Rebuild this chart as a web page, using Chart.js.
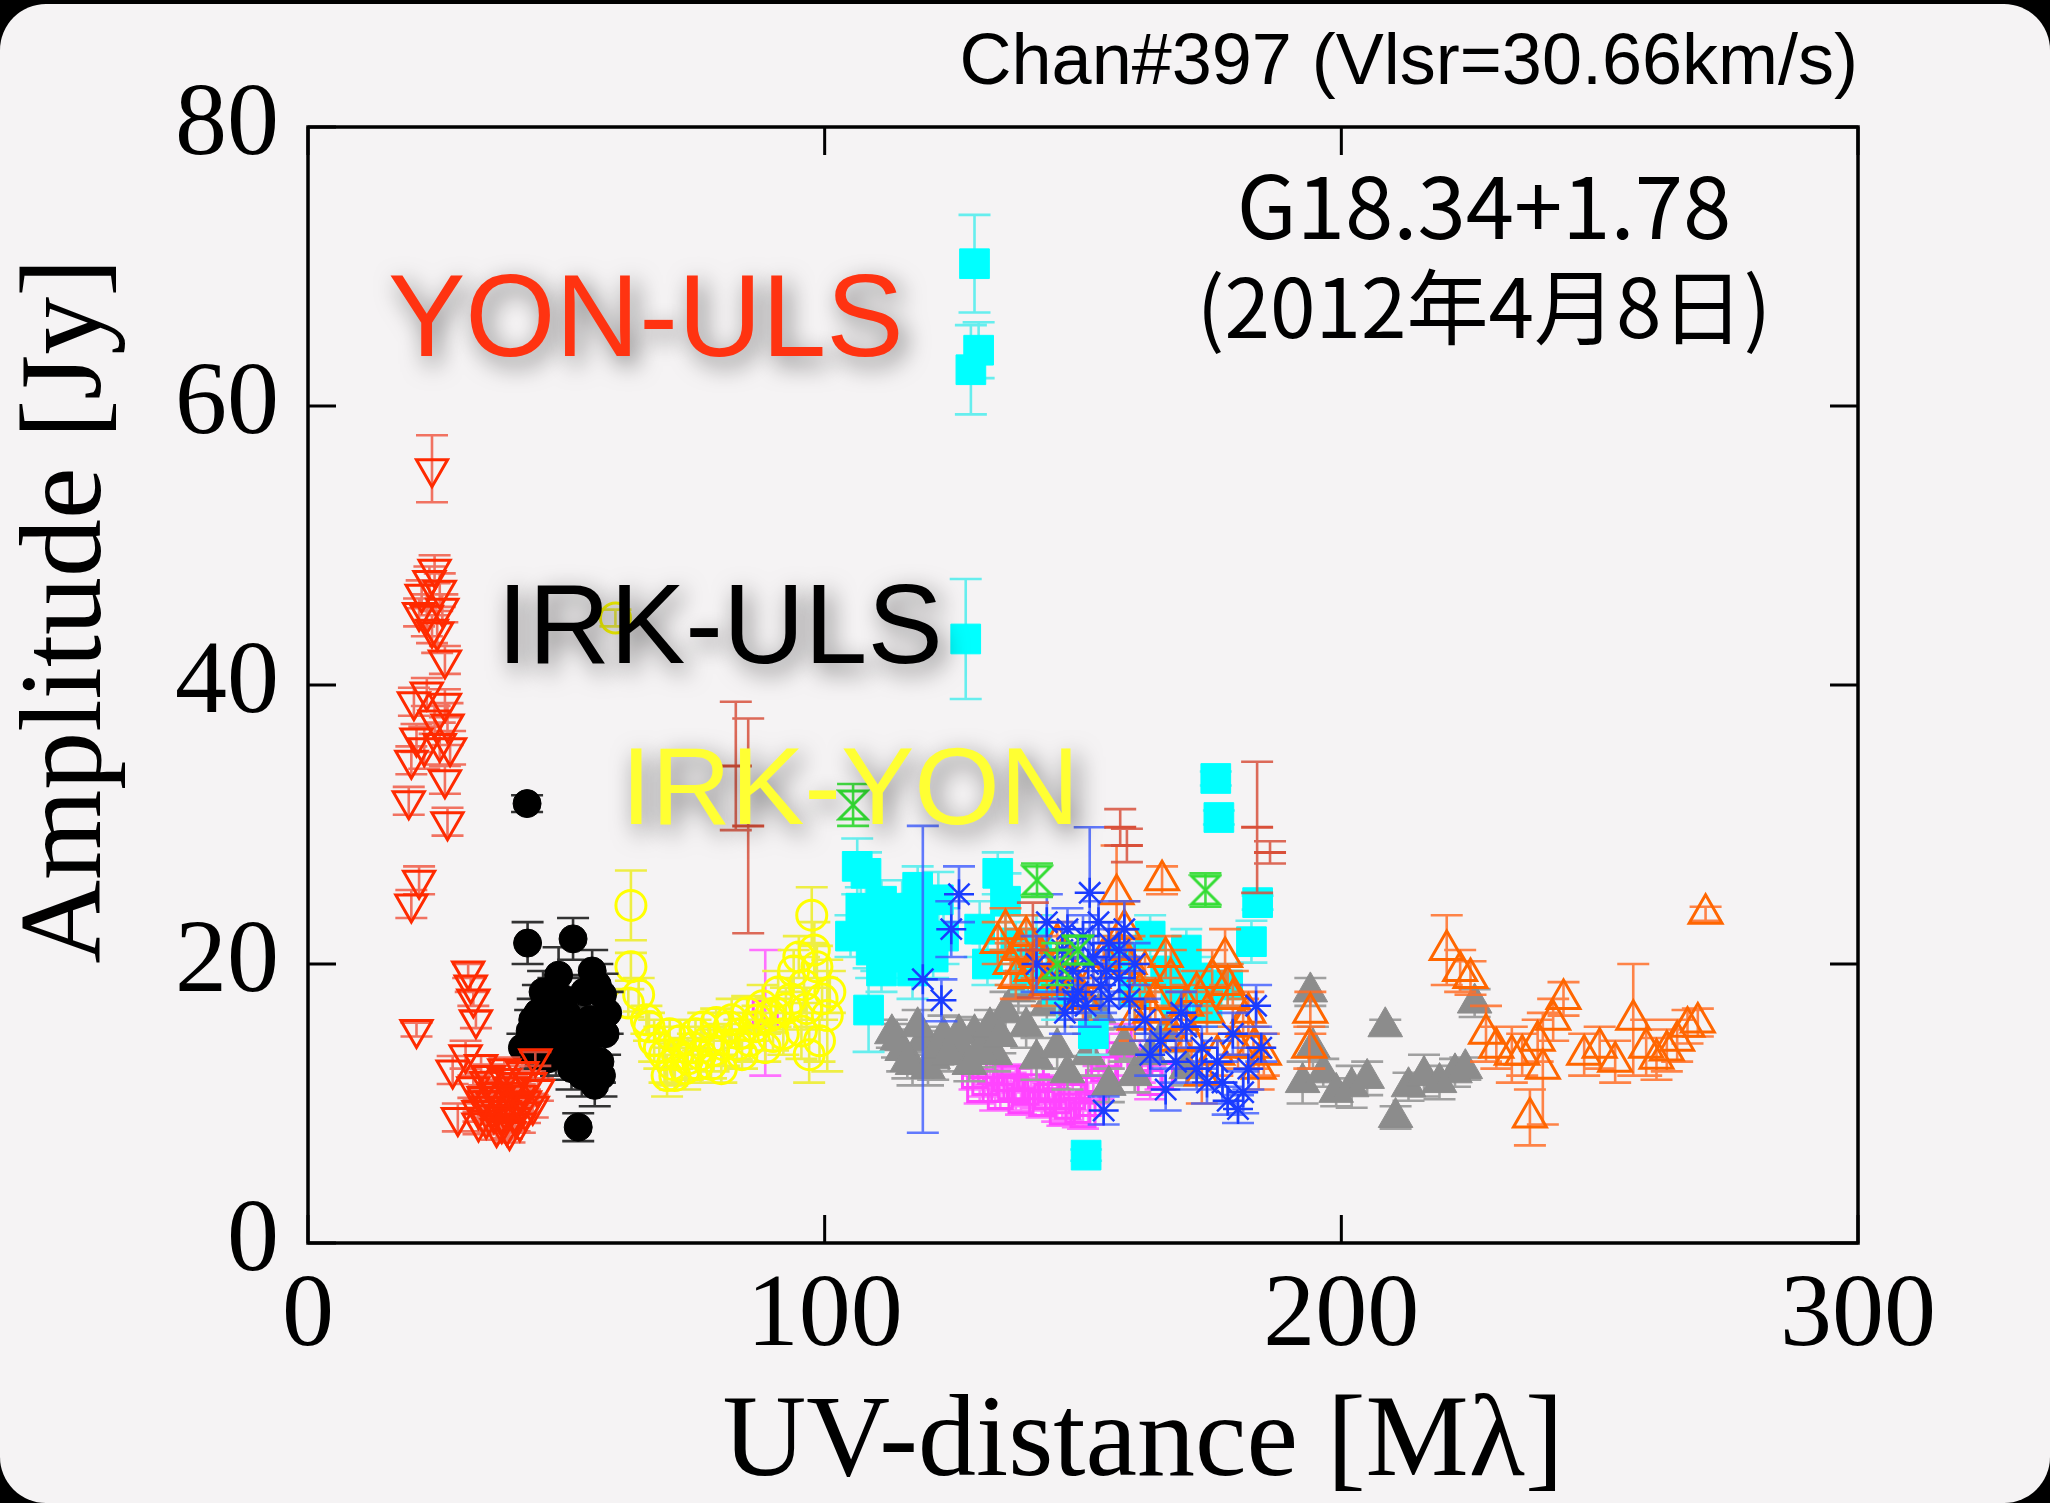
<!DOCTYPE html>
<html>
<head>
<meta charset="utf-8">
<title>UV-distance vs Amplitude</title>
<script src="https://cdn.jsdelivr.net/npm/chart.js@4.4.1/dist/chart.umd.min.js"></script>
<style>
  html, body { margin: 0; padding: 0; background: #000; overflow: hidden; }
  #frame { position: absolute; left: 0; top: 4px; width: 2050px; height: 1499px; background: #f5f3f4; border-radius: 46px; }
  #chart { position: absolute; left: 0; top: 0; }
</style>
</head>
<body>
<div id="frame"></div>
<canvas id="chart" width="2050" height="1503"></canvas>
<script>
// axis ticks
const xTicks = [0, 100, 200, 300];
const yTicks = [0, 20, 40, 60, 80];

// YON-ULS (red, open down triangles)
const yonUlsX = [24, 24.5, 23.5, 22, 25.5, 21.5, 23, 26, 24, 25, 26.5, 20.5, 23, 26.5, 24.5, 27, 21, 22.5, 25.5, 27.5, 20, 26.5, 19.5, 27, 21.5, 20, 21,
  31, 31.5, 32, 32.5, 28, 29, 32, 30.5, 33, 34, 35, 36, 37, 38, 38.5, 39, 40, 40.5, 41, 42, 43, 44, 36.5, 39.5, 34.5, 37.5, 41.5, 33.5, 35.5, 38,
  33, 34.5, 36, 37.5, 39, 40.5, 42, 35, 38, 41, 43.5, 36.5, 39.5, 33.8, 44.5];
const yonUlsY = [55.5, 48.3, 47.5, 46.5, 46.8, 45.2, 45, 45.5, 44, 43.8, 41.8, 38.8, 39.5, 38.7, 37.5, 37.2, 36.2, 35.5, 35.8, 35.5, 34.6, 33.2, 31.7, 30.2, 26, 24.3, 15.3,
  19.5, 18.5, 17.5, 16, 12.4, 9, 11.2, 13.5, 8.6, 10.5, 9.8, 9.2, 10.5, 9.5, 8.3, 10.8, 9, 11.5, 8.6, 10.2, 11.5, 13.2, 10.8, 9.8, 11.6, 8.5, 12.3, 12.8, 10.2, 11.8,
  9.5, 8.8, 10.8, 9.2, 8, 10, 9.4, 12, 12.5, 10.6, 9.8, 8.2, 11.2, 10.2, 11];
const yonUlsErr = [2.4, 1, 1, 1, 1.2, 1, 1.5, 1, 1, 1.5, 1, 1, 1, 1, 1, 1.5, 1, 1.5, 1.5, 1.2, 1, 1, 1, 1, 1, 1, 0.5,
  0.5, 0.5, 0.5, 0.6, 1, 1, 0.8, 1, 0.8, 0.8, 0.8, 1, 1, 1.5, 0.8, 1, 1, 1.2, 0.7, 0.8, 0.8, 0.5, 0.8, 0.6, 0.6, 0.6, 0.6, 0.6, 0.6, 0.6,
  0.8, 0.8, 0.8, 0.8, 0.8, 0.8, 0.8, 0.8, 0.8, 0.8, 0.8, 0.8, 0.8, 0.8, 0.8];

// IRK-ULS (black, filled circles)
const irkUlsX = [42.4, 42.5, 51.3, 48.5, 55, 56, 41.5, 43, 44.5, 46, 47.5, 49, 50.5, 52, 53, 54, 55.5, 56.5, 57.5, 58, 57, 52.3, 45, 48, 50, 54.5, 44, 53.5,
  43.5, 46.5, 49.5, 51, 53.8, 56.8, 45.5, 47];
const irkUlsY = [31.5, 21.5, 21.8, 19.2, 19.5, 18.5, 14, 15.2, 16.5, 15.5, 17, 15, 14, 13.2, 12, 14.5, 11.3, 13, 15, 16.5, 17.8, 8.3, 14.2, 13.5, 16.5, 16, 13.5, 18,
  16, 13.2, 17.5, 12.5, 15.5, 12, 18, 14.5];
const irkUlsErr = [0.6, 1.5, 1.5, 2, 1.5, 1.5, 1, 1.5, 2, 2, 2, 1.5, 2, 1.5, 1.5, 2, 1.5, 1.5, 1.5, 1.5, 1.5, 1, 1.5, 1.5, 1.5, 1.5, 1, 1.2,
  1.5, 1.5, 1.5, 1.5, 1.5, 1.5, 1.5, 1.5];

// IRK-YON (yellow, open circles)
const irkYonX = [59.5, 62.5, 62.5, 64, 62, 65.5, 67, 69, 70.5, 72, 73.5, 75, 76, 77.5, 79, 80.5, 82, 83.5, 85, 86.5, 88, 89.5, 91, 92.5, 94, 96, 97.5, 98.5, 99.5, 100.5, 99, 95.5, 90, 84, 78, 71,
  66, 68, 70, 71.5, 73, 74.5, 76.5, 78.5, 80, 81.5, 83, 85.5, 87, 88.5, 90.5, 92, 93.5, 95, 96.5, 98, 101, 97, 69.5, 75.5];
const irkYonY = [44.8, 24.2, 19.8, 17.8, 17.2, 16, 14.5, 13.5, 12.8, 14.5, 13.2, 15, 13.5, 14.5, 15.8, 14.2, 16, 15, 16.5, 15.5, 17, 16.3, 18, 16.8, 19.5, 18.5, 23.5, 19.8, 17.5, 16.3, 14.5, 15.2, 14.8, 13.5, 12.8, 12,
  15.5, 14, 15, 13.5, 12.5, 14, 15.5, 13.8, 12.5, 15.5, 14.2, 14.5, 16, 14, 16.5, 15, 17.5, 20.5, 16.8, 21, 18, 13.5, 12, 12.8];
const irkYonErr = [0.6, 2.5, 1, 1.2, 1, 1, 1.5, 2, 1.5, 1.5, 1.5, 1, 2, 1, 1, 1.5, 1.5, 1, 1.2, 1, 1.5, 1.2, 1.5, 1.5, 1.5, 2, 2, 1.5, 1.5, 4, 1.5, 2, 1, 1, 1, 1,
  1, 1.5, 1, 1, 1.5, 1, 1, 1.5, 1, 1, 1, 1.5, 1, 1, 1, 1.5, 1.5, 1.5, 1.5, 2, 1.5, 2, 1.5, 1];

// other baselines
const cyanX = [129, 129.8, 128.3, 127.3, 106.3, 108, 108, 110, 112, 114, 116, 117.5, 119, 120.5, 122, 113, 108.5, 130, 131.5, 133.5, 135, 137, 139, 141, 143, 145, 150.6, 152, 157, 160, 163, 166, 168, 170, 172, 175.7, 176.3, 183.8, 182.6, 178, 174,
  105, 107, 109, 111, 113, 115, 117, 119, 121, 123, 111, 118];
const cyanY = [70.2, 64, 62.6, 43.3, 27, 26.5, 22.5, 21.5, 23, 22.5, 21.5, 24, 23.5, 22, 24.6, 20.5, 16.7, 22.5, 20, 26.5, 24.5, 21.5, 19.5, 21.5, 19, 18, 6.3, 15, 20.5, 18, 22, 19.5, 17.5, 21, 19, 33.3, 30.5, 24.4, 21.6, 18.5, 17,
  22, 24, 21, 24.5, 22.5, 24, 19.5, 21, 20.5, 22, 19.5, 25.5];
const cyanErr = [3.5, 2, 3.2, 4.3, 2, 1.5, 2, 2, 1.5, 2, 2, 2, 1.5, 2, 2, 1.5, 3, 2, 1.5, 1.5, 2, 1.5, 1.5, 2, 1.5, 2, 0.4, 1.5, 1.5, 2, 1.5, 1.5, 2, 1.5, 1.5, 0.5, 0.5, 0.5, 1.5, 1.5, 1.5,
  1.5, 1.5, 2, 1.5, 1.5, 2, 2, 2, 1.5, 2, 1.5, 1.5];

const greyX = [113, 115, 117, 119, 121, 123, 125, 127, 129, 131, 133, 135, 137.5, 139, 141, 143, 145, 147, 149, 151, 153, 155, 158, 160, 163, 166, 170, 194, 194.5, 192.5, 196.5, 199, 202, 205, 208.5, 210.5, 213, 216, 219, 222, 225.8, 224,
  114, 116, 118, 120, 122, 124, 126, 128, 130, 132, 134];
const greyY = [15, 13.8, 12.8, 14.5, 13.2, 14.8, 14, 13.5, 15, 14.2, 13.5, 16.5, 18, 15.5, 13.2, 17, 14, 12.2, 18, 13.5, 16.5, 11.3, 14.2, 12, 13.5, 15.2, 12.5, 18, 14, 11.5, 12.2, 10.8, 11.2, 11.8, 15.5, 9, 11.2, 12, 11.5, 12.2, 17.2, 12.5,
  14.5, 13, 15.5, 12.5, 14, 13.5, 15, 12.8, 13.8, 15.5, 14.8];
const greyErr = [1, 1.5, 1.5, 1, 1.5, 1.5, 1, 1.2, 1, 1, 1.2, 1.5, 1.5, 1.5, 1.5, 1.5, 1.5, 1.2, 1, 1.5, 1.2, 1.2, 1.2, 1.2, 1.5, 1.5, 1.2, 1, 1.5, 1.5, 1, 1, 1.5, 1.2, 0.5, 0.8, 1, 1.5, 1.2, 1, 1, 0.8,
  1.2, 1.2, 1.2, 1.2, 1.2, 1.2, 1.2, 1.2, 1.2, 1.2, 1.2];

const magentaX = [88.5, 129, 131, 133, 135, 137, 139, 141, 143, 145, 147, 149, 151, 153, 155, 157, 159, 161, 163, 165,
  130, 132, 134, 136, 138, 140, 142, 144, 146, 148, 150, 152, 154];
const magentaY = [16.5, 12, 11.5, 11, 11.8, 11, 10.8, 11.2, 10.5, 10.2, 9.8, 9.5, 10, 11.5, 13.5, 14.5, 12.5, 13, 11.5, 12,
  11, 12.3, 10.5, 11.2, 10.2, 11.8, 10, 11, 9.4, 10.5, 9.2, 11, 12.5];
const magentaErr = [4.5, 1, 1, 1.5, 1, 1.5, 1, 1.5, 1, 1.5, 1, 1.2, 1.5, 1.2, 1.5, 1.2, 1, 1.5, 1.2, 1,
  1, 1, 1, 1, 1, 1, 1, 1, 1, 1, 1, 1, 1];

const blueX = [119, 122.6, 124.5, 126, 151.3, 146, 148, 150, 152, 153.5, 155, 157, 159, 148, 154, 162, 165, 168, 170, 172, 174, 176, 178, 180, 182, 183.5, 179, 143, 141, 158, 184.5,
  145, 147, 149, 151, 153, 155, 157, 160, 146.5, 150.5, 154.5, 163, 166, 169, 173, 177, 181];
const blueY = [18.9, 17.4, 22.5, 25, 25.1, 21, 19.5, 22, 20.5, 18.5, 21.5, 19, 17.5, 17.5, 9.5, 16, 14.5, 13, 15.5, 12.5, 11.5, 13, 10.2, 9.6, 12.5, 17, 15, 23, 20, 22.5, 14,
  19, 22.5, 18, 20, 23, 17.5, 21, 20, 16.5, 17, 19.5, 13.5, 11, 16.5, 14, 11.5, 10.8];
const blueErr = [11, 1.5, 2, 2, 4.7, 2, 2, 1.5, 2, 2, 1.5, 2, 2, 1.5, 1, 1.5, 1.5, 1.5, 1.5, 1.5, 1.5, 1.5, 1, 1, 1.5, 1.5, 1.5, 2, 2, 2, 1,
  1.5, 1.5, 1.5, 1.5, 1.5, 1.5, 1.5, 1.5, 1.5, 1.5, 1.5, 1.5, 1.5, 1.5, 1.5, 1.5, 1.5];

const orangeX = [133.5, 136, 138, 140, 142, 144, 146, 148, 156.5, 158, 159, 161, 163, 165.3, 167, 169, 171, 173, 175, 177.5, 179, 181, 183, 185, 194, 193.8, 220.4, 223, 225, 228, 230, 233, 236.5, 235, 238, 241, 243, 239, 247, 250, 253, 256.5, 259, 261, 263, 265, 267, 269, 270.5,
  135, 137, 139, 141, 143, 145, 147, 150, 152, 154, 157, 160, 162, 164, 166, 168, 170, 172, 174, 176, 178, 180, 182, 184];
const orangeY = [21.5, 20, 21, 19.5, 20.5, 19, 20.5, 18.5, 25, 22.5, 20, 18, 16.5, 26, 19, 16, 14.5, 12, 19, 20.5, 17.5, 15.5, 14, 13.5, 16.5, 14, 21, 19.5, 19, 15, 14, 13.5, 9, 13.5, 14.5, 16, 17.5, 12.5, 13.5, 14, 13, 16, 14, 13.2, 13.8, 14.5, 15.5, 15.8, 23.6,
  22.5, 19, 22, 20.5, 18.5, 21.5, 19.5, 17.5, 19, 20.5, 21, 16, 19.5, 17.5, 20.5, 14.5, 17, 18, 16.5, 13.5, 18.5, 14, 16.5, 12.5];
const orangeErr = [1.5, 1.5, 1.5, 2, 1.5, 1.5, 1.5, 2, 3.5, 2, 2, 2, 2, 1, 2, 2, 2, 2, 2, 2, 2, 2, 1.5, 1.5, 1.5, 1.5, 2.5, 1.5, 1.2, 2, 1.5, 2, 2, 1.5, 1.5, 1.5, 1.2, 4, 1.5, 1.5, 1.5, 4, 2, 1.5, 1.5, 1.5, 1.2, 1, 0.5,
  1.5, 1.5, 1.5, 1.5, 1.5, 1.5, 1.5, 1.5, 1.5, 1.5, 1.5, 1.5, 1.5, 1.5, 1.5, 1.5, 1.5, 1.5, 1.5, 1.5, 1.5, 1.5, 1.5, 1.5];

const greenX = [105.5, 141.1, 173.7, 145, 149];
const greenY = [31.4, 26, 25.3, 20, 21];
const greenErr = [1.5, 1.2, 1.2, 1.5, 1];

const brickX = [82.8, 85.2, 140.3, 157.2, 158.5, 183.7, 186.2];
const brickY = [34.2, 29.9, 21, 29.8, 28.5, 29.8, 28];
const brickErr = [4.6, 7.7, 3.4, 1.3, 1.2, 4.7, 0.8];

const pts = (xs, ys) => xs.map((x, i) => ({ x: x, y: ys[i] }));

function hourglass(color) {
  const c = document.createElement("canvas");
  c.width = 34;
  c.height = 34;
  const g = c.getContext("2d");
  g.strokeStyle = color;
  g.lineWidth = 3;
  g.beginPath();
  g.moveTo(3, 3);
  g.lineTo(31, 3);
  g.lineTo(3, 31);
  g.lineTo(31, 31);
  g.closePath();
  g.stroke();
  return c;
}

// vertical error bars, drawn under each dataset's markers
const errorBars = {
  id: "errorBars",
  beforeDatasetDraw(chart, args) {
    const ds = chart.data.datasets[args.index];
    if (!ds.errors) return;
    const ctx = chart.ctx;
    const y = chart.scales.y;
    const a = chart.chartArea;
    ctx.save();
    ctx.beginPath();
    ctx.rect(a.left, a.top, a.right - a.left, a.bottom - a.top);
    ctx.clip();
    ctx.strokeStyle = ds.errColor;
    ctx.lineWidth = 2.6;
    ctx.beginPath();
    ds.data.forEach((p, i) => {
      const px = args.meta.data[i].x;
      const top = y.getPixelForValue(p.y + ds.errors[i]);
      const bot = y.getPixelForValue(p.y - ds.errors[i]);
      ctx.moveTo(px, top);
      ctx.lineTo(px, bot);
      ctx.moveTo(px - 16, top);
      ctx.lineTo(px + 16, top);
      ctx.moveTo(px - 16, bot);
      ctx.lineTo(px + 16, bot);
    });
    ctx.stroke();
    ctx.restore();
  },
};

// labels on the plot
const labels = {
  id: "labels",
  afterDatasetsDraw(chart) {
    const ctx = chart.ctx;
    ctx.save();
    ctx.textBaseline = "alphabetic";
    ctx.shadowColor = "rgba(0,0,0,0.55)";
    ctx.shadowBlur = 24;
    ctx.shadowOffsetX = 6;
    ctx.shadowOffsetY = 8;
    ctx.textAlign = "left";
    ctx.font = "116px 'Liberation Sans', Arial, sans-serif";
    ctx.fillStyle = "#ff3311";
    ctx.fillText("YON-ULS", 388, 356);
    ctx.font = "113px 'Liberation Sans', Arial, sans-serif";
    ctx.fillStyle = "#000000";
    ctx.fillText("IRK-ULS", 497, 663);
    ctx.font = "110px 'Liberation Sans', Arial, sans-serif";
    ctx.fillStyle = "#ffff33";
    ctx.fillText("IRK-YON", 621, 824);
    ctx.restore();
  },
  afterDraw(chart) {
    const ctx = chart.ctx;
    const a = chart.chartArea;
    const x = chart.scales.x;
    const y = chart.scales.y;
    ctx.save();
    // frame and inward ticks
    ctx.strokeStyle = "#000";
    ctx.lineWidth = 3.5;
    ctx.strokeRect(a.left, a.top, a.right - a.left, a.bottom - a.top);
    ctx.lineWidth = 3;
    ctx.beginPath();
    xTicks.forEach((v) => {
      const px = x.getPixelForValue(v);
      ctx.moveTo(px, a.bottom);
      ctx.lineTo(px, a.bottom - 28);
      ctx.moveTo(px, a.top);
      ctx.lineTo(px, a.top + 28);
    });
    yTicks.forEach((v) => {
      const py = y.getPixelForValue(v);
      ctx.moveTo(a.left, py);
      ctx.lineTo(a.left + 28, py);
      ctx.moveTo(a.right, py);
      ctx.lineTo(a.right - 28, py);
    });
    ctx.stroke();

    ctx.fillStyle = "#000";
    ctx.font = "72px 'Liberation Sans', Arial, sans-serif";
    ctx.textAlign = "right";
    ctx.textBaseline = "alphabetic";
    ctx.fillText("Chan#397 (Vlsr=30.66km/s)", 1858, 84);

    ctx.textAlign = "center";
    ctx.font = "87px 'Noto Sans CJK JP', sans-serif";
    ctx.fillText("G18.34+1.78", 1484, 239);
    ctx.font = "82px 'Noto Sans CJK JP', sans-serif";
    ctx.fillText("(2012年4月8日)", 1484, 338);

    // axis titles
    ctx.font = "116px 'Liberation Serif', 'Times New Roman', serif";
    ctx.fillText("UV-distance [Mλ]", 1143, 1475);
    ctx.translate(100, 611);
    ctx.rotate(-Math.PI / 2);
    ctx.fillText("Amplitude [Jy]", 0, 0);
    ctx.restore();
  },
};

const tickFont = { family: "'Liberation Serif', 'Times New Roman', serif", size: 104 };

new Chart(document.getElementById("chart"), {
  type: "scatter",
  data: {
    datasets: [
      {
        label: "YON-ULS",
        data: pts(yonUlsX, yonUlsY),
        errors: yonUlsErr,
        errColor: "rgba(240,90,70,0.85)",
        pointStyle: "triangle",
        pointRotation: 180,
        pointRadius: 18,
        borderColor: "#ff2a00",
        backgroundColor: "rgba(0,0,0,0)",
        borderWidth: 3,
      },
      {
        label: "IRK-ULS",
        data: pts(irkUlsX, irkUlsY),
        errors: irkUlsErr,
        errColor: "#333333",
        pointStyle: "circle",
        pointRadius: 14,
        borderColor: "#000000",
        backgroundColor: "#000000",
        borderWidth: 1,
      },
      {
        label: "IRK-YON",
        data: pts(irkYonX, irkYonY),
        errors: irkYonErr,
        errColor: "#eeee44",
        pointStyle: "circle",
        pointRadius: 15,
        borderColor: "#ffff00",
        backgroundColor: "rgba(0,0,0,0)",
        borderWidth: 3,
      },
      {
        label: "brick",
        data: pts(brickX, brickY),
        errors: brickErr,
        errColor: "rgba(215,80,60,0.85)",
        pointStyle: "line",
        pointRadius: 16,
        borderColor: "#d9503a",
        borderWidth: 3,
      },
      {
        label: "green",
        data: pts(greenX, greenY),
        errors: greenErr,
        errColor: "#44dd44",
        pointStyle: hourglass("#33dd33"),
        pointRadius: 16,
      },
      {
        label: "blue",
        data: pts(blueX, blueY),
        errors: blueErr,
        errColor: "rgba(60,90,255,0.8)",
        pointStyle: "star",
        pointRadius: 15,
        borderColor: "#1a3cff",
        borderWidth: 2.5,
      },
      {
        label: "orange",
        data: pts(orangeX, orangeY),
        errors: orangeErr,
        errColor: "rgba(255,110,40,0.85)",
        pointStyle: "triangle",
        pointRadius: 19,
        borderColor: "#ff6600",
        backgroundColor: "rgba(0,0,0,0)",
        borderWidth: 3,
      },
      {
        label: "cyan",
        data: pts(cyanX, cyanY),
        errors: cyanErr,
        errColor: "#66eeee",
        pointStyle: "rect",
        pointRadius: 21,
        borderColor: "#00ffff",
        backgroundColor: "#00ffff",
        borderWidth: 1,
      },
      {
        label: "grey",
        data: pts(greyX, greyY),
        errors: greyErr,
        errColor: "#a0a0a0",
        pointStyle: "triangle",
        pointRadius: 20,
        borderColor: "#8c8c8c",
        backgroundColor: "#8c8c8c",
        borderWidth: 1,
      },
      {
        label: "magenta",
        data: pts(magentaX, magentaY),
        errors: magentaErr,
        errColor: "#ff70ff",
        pointStyle: "rect",
        pointRadius: 17,
        borderColor: "#ff44ff",
        backgroundColor: "rgba(0,0,0,0)",
        borderWidth: 3,
      },
    ],
  },
  options: {
    responsive: false,
    animation: false,
    events: [],
    layout: { padding: { left: 0, top: 127, right: 192, bottom: 0 } },
    plugins: { legend: { display: false }, tooltip: { enabled: false } },
    scales: {
      x: {
        type: "linear",
        min: 0,
        max: 300,
        afterBuildTicks: (s) => { s.ticks = xTicks.map((v) => ({ value: v })); },
        ticks: { font: tickFont, color: "#000", padding: 4, maxRotation: 0, autoSkip: false },
        grid: { display: false },
        border: { display: false },
        afterFit: (s) => { s.height = 260; },
      },
      y: {
        min: 0,
        max: 80,
        afterBuildTicks: (s) => { s.ticks = yTicks.map((v) => ({ value: v })); },
        ticks: { font: tickFont, color: "#000", padding: 21, autoSkip: false },
        grid: { display: false },
        border: { display: false },
        afterFit: (s) => { s.width = 308; },
      },
    },
  },
  plugins: [errorBars, labels],
});
</script>
</body>
</html>
